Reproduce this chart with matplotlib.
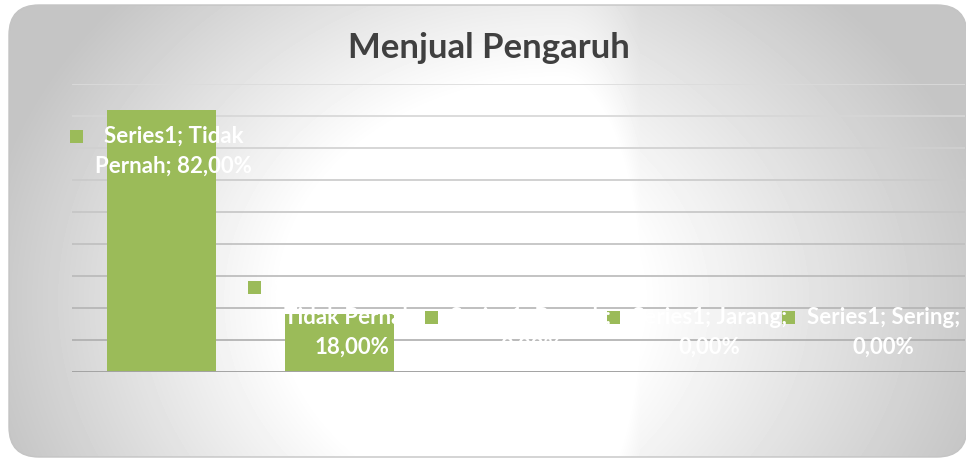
import textwrap
import numpy as np
import matplotlib
matplotlib.use("Agg")
import matplotlib.pyplot as plt
from matplotlib.patches import FancyBboxPatch, Rectangle
from matplotlib.transforms import IdentityTransform

# data
categories = ["Tidak Pernah", "Hampir Tidak Pernah", "Pernah", "Jarang", "Sering"]
values = [0.82, 0.18, 0.0, 0.0, 0.0]
series_name = "Series1"
title = "Menjual Pengaruh"
grid_steps = [0.1, 0.2, 0.3, 0.4, 0.5, 0.6, 0.7, 0.8, 0.9]

green = "#9BBB59"
plt.rcParams["font.family"] = ["Lato", "DejaVu Sans"]

W, H = 966, 459
fig = plt.figure(figsize=(W / 100, H / 100), dpi=100)

# radial grey-white background inside a rounded frame
bg = fig.add_axes([0, 0, 1, 1], zorder=0)
bg.set_xlim(0, W)
bg.set_ylim(H, 0)
bg.axis("off")
yy, xx = np.mgrid[0:H, 0:W]
cx, cy = 560.0, 300.0
dx = np.abs(xx - cx)
h = np.where(xx < cx, dx / 545.0,
             np.interp(dx, [0, 80, 400, 1000], [0, 0.512, 1.0, 1.915]))
r = np.sqrt(h ** 2 + ((yy - cy) / 430.0) ** 2)
shade = np.clip(1.21 - 0.41 * r, 0.77, 1)
im = bg.imshow(shade, cmap="gray", vmin=0, vmax=1, extent=(0, W, H, 0),
               interpolation="bilinear", aspect="auto")
frame = FancyBboxPatch((9, 5), W - 8, 452, boxstyle="round,pad=0,rounding_size=30",
                       facecolor="none", edgecolor="#c4c4c4", lw=1)
bg.add_patch(frame)
im.set_clip_path(frame)

# plot area
ax = fig.add_axes([72 / W, (H - 372) / H, 893 / W, 288 / H], zorder=1)
ax.patch.set_alpha(0)
ax.set_xlim(-0.5, len(categories) - 0.5)
ax.set_ylim(0, 0.9)
for s in ax.spines.values():
    s.set_visible(False)
ax.set_xticks([])
ax.set_yticks([])

for v in grid_steps:
    g = 0.86 - 0.2 * (1 - v / 0.9)
    ax.axhline(v, color=(g, g, g), lw=1.2, zorder=0)
ax.axhline(0, color="#a3a3a3", lw=1.4, zorder=3)

x = np.arange(len(categories))
ax.bar(x, values, width=0.61, color=green, zorder=2)

fig.text(489 / W, 1 - 48 / H, title, ha="center", va="center",
         fontsize=25, fontweight="bold", color="#404040")

# data labels with legend key, drawn in pixel coords
renderer = fig.canvas.get_renderer()
line_h = 30
base_px = ax.transData.transform((0, 0))[1]
for i, v in enumerate(values):
    pct = ("%.2f%%" % (v * 100)).replace(".", ",")
    lines = textwrap.wrap("%s; %s; %s" % (series_name, categories[i], pct), 16)
    bx, top_px = ax.transData.transform((i, v))
    n = len(lines)
    if top_px - base_px > n * line_h + 20:
        first_y = top_px - 27
    else:
        first_y = base_px + 25 + (n - 1) * line_h
    texts = []
    for k, ln in enumerate(lines):
        t = fig.text(0, first_y - k * line_h, ln, transform=IdentityTransform(),
                     ha="center", va="center", fontsize=16, fontweight="bold",
                     color="white", zorder=5)
        texts.append(t)
    wmax = max(t.get_window_extent(renderer).width for t in texts)
    total = 13 + 12 + wmax
    left = bx - total / 2
    if left + total > W - 6:
        left = W - 6 - total
    tx = left + 25 + wmax / 2
    for t in texts:
        t.set_x(tx)
    fig.add_artist(Rectangle((left, first_y - 6.5), 13, 13, transform=IdentityTransform(),
                             facecolor=green, edgecolor="none", zorder=5))

fig.savefig("out.png", dpi=100)
